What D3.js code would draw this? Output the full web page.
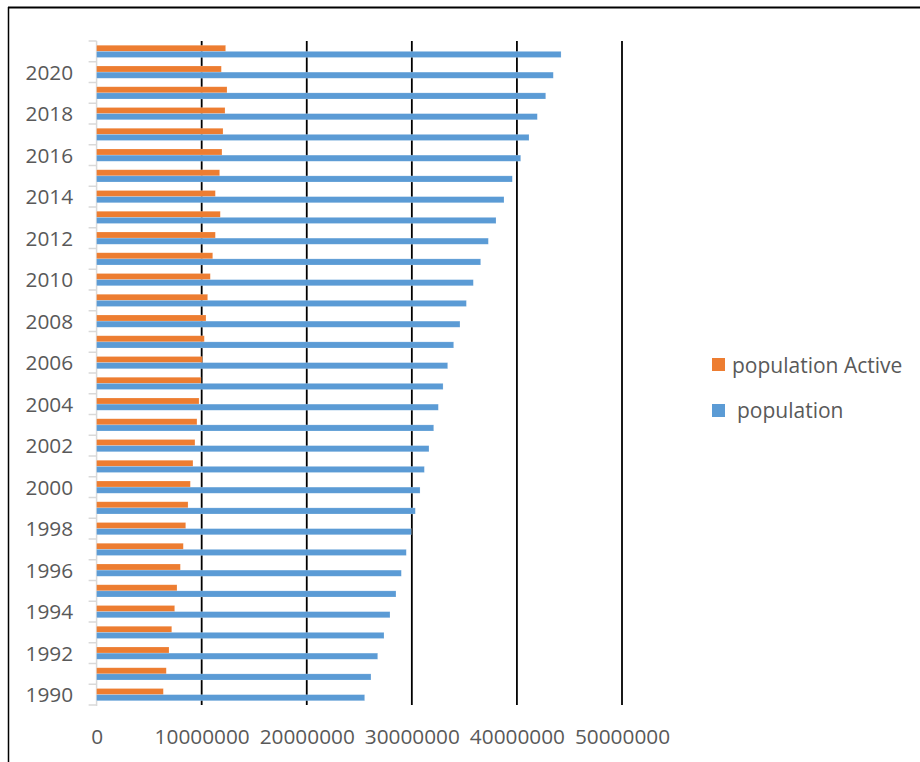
<!DOCTYPE html>
<html>
<head>
<meta charset="utf-8">
<script src="https://cdn.jsdelivr.net/npm/d3@7"></script>
<style>
  html, body { margin: 0; padding: 0; background: #fff; }
  svg { display: block; font-family: "Open Sans", "Liberation Sans", sans-serif; }
</style>
</head>
<body>
<svg id="chart" width="920" height="762"></svg>
<script>
// Years, bottom to top
const years = [1990, 1991, 1992, 1993, 1994, 1995, 1996, 1997, 1998, 1999,
  2000, 2001, 2002, 2003, 2004, 2005, 2006, 2007, 2008, 2009,
  2010, 2011, 2012, 2013, 2014, 2015, 2016, 2017, 2018, 2019,
  2020, 2021];

// Total population
const population = [25510000, 26110000, 26750000, 27350000, 27920000, 28490000,
  29000000, 29470000, 29950000, 30330000, 30780000, 31190000, 31630000,
  32080000, 32520000, 32970000, 33410000, 33980000, 34580000, 35190000,
  35850000, 36550000, 37280000, 38010000, 38770000, 39560000, 40360000,
  41150000, 41940000, 42740000, 43460000, 44200000];

// Active population
const populationActive = [6350000, 6630000, 6890000, 7150000, 7430000, 7650000,
  7970000, 8250000, 8480000, 8700000, 8920000, 9170000, 9360000, 9550000,
  9750000, 9940000, 10060000, 10250000, 10410000, 10570000, 10820000,
  11050000, 11300000, 11770000, 11300000, 11710000, 11930000, 12030000,
  12220000, 12410000, 11870000, 12280000];

const xTicks = [0, 10000000, 20000000, 30000000, 40000000, 50000000];
const yLabelYears = [1990, 1992, 1994, 1996, 1998, 2000, 2002, 2004, 2006,
  2008, 2010, 2012, 2014, 2016, 2018, 2020];

const seriesNames = ["population Active", "population"];
const colors = { active: "#ED7D31", total: "#5B9BD5" };
const textColor = "#595959";

const svg = d3.select("#chart");

// Outer frame (top and left edges)
svg.append("line").attr("x1", 8).attr("x2", 920).attr("y1", 7.5).attr("y2", 7.5)
  .attr("stroke", "#000").attr("stroke-width", 2);
svg.append("line").attr("x1", 8.5).attr("x2", 8.5).attr("y1", 7).attr("y2", 762)
  .attr("stroke", "#000").attr("stroke-width", 1.5);

const plot = { left: 96.6, right: 622, top: 41, bottom: 705 };

const x = d3.scaleLinear().domain([0, 50000000]).range([plot.left, plot.right]);
const y = d3.scaleBand().domain(years.slice().reverse())
  .range([plot.top, plot.bottom]).paddingInner(0).paddingOuter(0);

const step = y.step();
const barH = step * 0.295;
const barOff = (step - 2 * barH) / 2;

// Vertical gridlines
svg.append("g").selectAll("line")
  .data(xTicks.filter(d => d > 0))
  .join("line")
  .attr("x1", d => x(d)).attr("x2", d => x(d))
  .attr("y1", plot.top).attr("y2", plot.bottom)
  .attr("stroke", "#000").attr("stroke-width", 1.8);

// Category axis line and boundary ticks
svg.append("line")
  .attr("x1", x(0)).attr("x2", x(0))
  .attr("y1", plot.top).attr("y2", plot.bottom + 1)
  .attr("stroke", "#d9d9d9").attr("stroke-width", 1.5);

const boundaries = years.map(d => y(d)).concat([plot.bottom]);
svg.append("g").selectAll("line")
  .data(boundaries)
  .join("line")
  .attr("x1", x(0) - 8).attr("x2", x(0))
  .attr("y1", d => d).attr("y2", d => d)
  .attr("stroke", "#d9d9d9").attr("stroke-width", 1.5);

// Bars
const rows = years.map((yr, i) => ({ year: yr, active: populationActive[i], total: population[i] }));

svg.append("g").selectAll("rect")
  .data(rows)
  .join("rect")
  .attr("x", x(0))
  .attr("y", d => y(d.year) + barOff)
  .attr("width", d => x(d.active) - x(0))
  .attr("height", barH)
  .attr("fill", colors.active)
  .attr("stroke", "rgba(255,255,255,0.3)")
  .attr("stroke-width", 0.6);

svg.append("g").selectAll("rect")
  .data(rows)
  .join("rect")
  .attr("x", x(0))
  .attr("y", d => y(d.year) + barOff + barH)
  .attr("width", d => x(d.total) - x(0))
  .attr("height", barH)
  .attr("fill", colors.total)
  .attr("stroke", "rgba(255,255,255,0.3)")
  .attr("stroke-width", 0.6);

// Year labels
const yAxis = d3.axisLeft(y).tickValues(yLabelYears).tickSize(0).tickPadding(23.5);
const gy = svg.append("g").attr("transform", `translate(${x(0)},0)`).call(yAxis);
gy.select(".domain").remove();
gy.selectAll("text")
  .attr("fill", textColor)
  .attr("font-size", "20.8px")
  .attr("font-family", "'Open Sans', sans-serif")
  .attr("dy", "0.36em");

// Value labels
const xAxis = d3.axisBottom(x).tickValues(xTicks).tickFormat(d3.format("d")).tickSize(0).tickPadding(24);
const gx = svg.append("g").attr("transform", `translate(0,${plot.bottom})`).call(xAxis);
gx.select(".domain").remove();
gx.selectAll("text")
  .attr("fill", textColor)
  .attr("font-size", "20.8px")
  .attr("font-family", "'Open Sans', sans-serif");

// Legend
const legend = svg.append("g");
const legendItems = [
  { name: seriesNames[0], color: colors.active, sy: 358, tx: 732, ty: 365 },
  { name: seriesNames[1], color: colors.total, sy: 404, tx: 737, ty: 410 }
];
legendItems.forEach(it => {
  legend.append("rect").attr("x", 712).attr("y", it.sy).attr("width", 13).attr("height", 13)
    .attr("fill", it.color);
  legend.append("text").attr("x", it.tx).attr("y", it.ty).attr("dy", "0.36em")
    .attr("fill", textColor).attr("font-size", "21px")
    .text(it.name);
});
</script>
</body>
</html>
